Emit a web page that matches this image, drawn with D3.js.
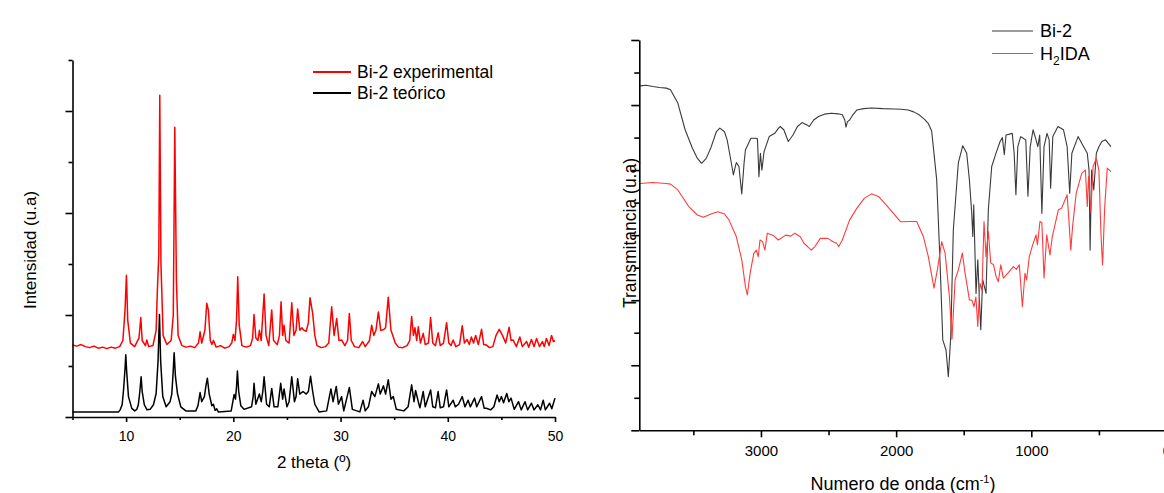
<!DOCTYPE html>
<meta charset="utf-8">
<style>
body { margin: 0; background: #fff; overflow: hidden; }
svg { display: block; background: #fff; }
text { font-family: "Liberation Sans", Arial, sans-serif; fill: #000; }
.axis path, .axis line { stroke: #000; stroke-width: 1.6px; }
.axis text { font-family: "Liberation Sans", Arial, sans-serif; fill: #000; }
.minor path { display: none; }
.xrd { fill: none; stroke-width: 1.5px; stroke-linejoin: round; }
.ir { fill: none; stroke-width: 1.1px; stroke-linejoin: round; }
</style>
<body>
<div id="chart"></div>
<script src="https://d3js.org/d3.v7.min.js"></script>
<script>

// ---- XRD panel (left) : [2 theta, intensity] ----
var xrdExperimental = [
  [5,1.41],[5.4,1.39],[5.8,1.42],[6.2,1.38],[6.6,1.36],[7.0,1.39],[7.4,1.35],[7.8,1.37],[8.2,1.34],[8.6,1.37],
  [9.0,1.35],[9.4,1.38],[9.7,1.5],[9.9,2.1],[10.03,2.78],[10.15,1.9],[10.4,1.45],[10.8,1.38],[11.2,1.55],[11.37,1.95],
  [11.5,1.5],[11.8,1.4],[11.93,1.51],[12.1,1.38],[12.5,1.4],[12.8,1.7],[12.92,2.5],[13.05,3.2],[13.14,6.31],[13.25,3.0],
  [13.33,2.46],[13.45,1.6],[13.8,1.42],[14.2,1.5],[14.4,2.0],[14.54,5.68],[14.69,2.69],[14.85,1.6],[15.2,1.4],[15.6,1.37],
  [16.0,1.39],[16.4,1.36],[16.75,1.45],[16.9,1.67],[17.05,1.45],[17.35,1.7],[17.52,2.23],[17.67,2.1],[17.85,1.5],[18.0,1.42],
  [18.14,1.5],[18.4,1.37],[18.8,1.4],[19.2,1.35],[19.6,1.38],[19.85,1.45],[20.0,1.62],[20.15,1.5],[20.3,1.9],[20.41,2.75],
  [20.55,1.8],[20.8,1.4],[21.2,1.37],[21.6,1.4],[21.8,1.55],[21.93,2.01],[22.1,1.55],[22.3,1.5],[22.43,1.7],[22.6,1.5],
  [22.87,2.41],[23.05,1.6],[23.3,1.4],[23.58,2.1],[23.75,1.5],[24.1,1.42],[24.3,1.6],[24.45,2.26],[24.6,1.6],[24.73,1.8],
  [24.9,1.5],[25.2,1.45],[25.45,2.24],[25.65,1.6],[25.85,1.7],[26.0,2.12],[26.2,1.7],[26.4,1.75],[26.53,1.71],[26.8,1.68],
  [27.0,1.85],[27.15,2.34],[27.4,2.03],[27.6,1.6],[27.8,1.4],[28.2,1.36],[28.6,1.38],[28.9,1.45],[29.17,2.16],[29.4,1.6],
  [29.64,1.93],[29.85,1.5],[30.1,1.51],[30.4,1.4],[30.65,1.5],[30.82,2.03],[31.0,1.5],[31.3,1.38],[31.7,1.36],[32.06,1.48],
  [32.3,1.38],[32.7,1.5],[32.9,1.8],[33.1,1.6],[33.3,1.7],[33.53,2.06],[33.75,1.7],[34.0,1.71],[34.2,1.75],[34.45,2.35],
  [34.7,1.7],[34.92,1.57],[35.1,1.45],[35.4,1.37],[35.8,1.36],[36.2,1.4],[36.45,1.5],[36.63,1.97],[36.8,1.6],[36.94,1.75],
  [37.1,1.5],[37.25,1.77],[37.45,1.45],[37.71,1.64],[37.9,1.42],[38.2,1.45],[38.4,1.95],[38.6,1.45],[38.85,1.4],[39.1,1.65],
  [39.3,1.4],[39.6,1.45],[39.89,1.85],[40.1,1.45],[40.3,1.4],[40.5,1.51],[40.75,1.38],[41.1,1.42],[41.35,1.79],[41.55,1.45],
  [41.8,1.52],[42.0,1.42],[42.2,1.57],[42.4,1.45],[42.6,1.6],[42.85,1.42],[43.15,1.72],[43.35,1.42],[43.6,1.41],[43.9,1.36],
  [44.2,1.38],[44.5,1.6],[44.8,1.72],[45.1,1.6],[45.4,1.45],[45.72,1.76],[45.9,1.5],[46.1,1.51],[46.4,1.38],[46.72,1.57],
  [46.95,1.38],[47.35,1.48],[47.55,1.37],[47.8,1.52],[48.05,1.38],[48.28,1.54],[48.55,1.38],[48.83,1.48],[49.0,1.38],[49.2,1.54],
  [49.45,1.4],[49.68,1.6],[49.85,1.48],[50,1.5]
];

var xrdTheoretical = [
  [5,0.1],[9.3,0.1],[9.44,0.14],[9.63,0.24],[9.76,0.53],[9.9,0.95],[9.97,1.22],[10.05,0.9],[10.22,0.4],[10.53,0.17],
  [10.8,0.12],[11.0,0.15],[11.14,0.24],[11.28,0.5],[11.4,0.79],[11.5,0.5],[11.7,0.24],[11.95,0.14],[12.24,0.15],[12.55,0.24],
  [12.8,0.46],[12.98,1.1],[13.11,2.01],[13.22,1.1],[13.42,0.4],[13.73,0.2],[14.1,0.3],[14.26,0.45],[14.38,0.85],[14.48,1.26],
  [14.6,0.8],[14.79,0.46],[15.1,0.2],[15.57,0.12],[16.5,0.12],[16.7,0.22],[16.9,0.48],[17.05,0.3],[17.3,0.4],[17.45,0.62],
  [17.58,0.76],[17.75,0.45],[18.0,0.22],[18.14,0.25],[18.3,0.13],[18.45,0.16],[18.6,0.1],[19.8,0.12],[20.07,0.44],[20.2,0.35],
  [20.3,0.6],[20.38,0.9],[20.5,0.5],[20.7,0.22],[21.0,0.15],[21.7,0.2],[21.85,0.4],[21.93,0.66],[22.1,0.25],[22.43,0.45],
  [22.6,0.3],[22.75,0.5],[22.87,0.79],[23.1,0.25],[23.35,0.2],[23.58,0.56],[23.8,0.2],[24.15,0.2],[24.42,0.66],[24.6,0.35],
  [24.73,0.55],[25.0,0.2],[25.2,0.3],[25.45,0.79],[25.7,0.3],[25.85,0.4],[26.0,0.75],[26.2,0.45],[26.5,0.5],[26.8,0.45],
  [27.0,0.5],[27.2,0.8],[27.4,0.5],[27.6,0.25],[28.0,0.1],[28.7,0.12],[29.1,0.55],[29.3,0.3],[29.6,0.6],[29.8,0.25],
  [30.1,0.4],[30.3,0.12],[30.82,0.58],[31.1,0.15],[31.8,0.1],[32.1,0.33],[32.3,0.12],[32.6,0.2],[32.9,0.5],[33.2,0.4],
  [33.53,0.65],[33.7,0.45],[34.0,0.61],[34.2,0.45],[34.45,0.73],[34.7,0.35],[34.92,0.4],[35.2,0.15],[35.9,0.12],[36.3,0.2],
  [36.63,0.63],[36.85,0.3],[37.0,0.52],[37.25,0.3],[37.4,0.18],[37.71,0.5],[37.9,0.2],[38.4,0.53],[38.6,0.2],[38.85,0.18],
  [39.1,0.5],[39.3,0.18],[39.6,0.2],[39.89,0.53],[40.1,0.2],[40.5,0.33],[40.7,0.2],[41.0,0.25],[41.35,0.4],[41.6,0.2],
  [41.9,0.33],[42.1,0.2],[42.5,0.37],[42.7,0.2],[43.15,0.4],[43.4,0.17],[43.6,0.17],[44.0,0.14],[44.3,0.2],[44.6,0.43],
  [44.8,0.3],[45.0,0.4],[45.2,0.28],[45.5,0.46],[45.7,0.3],[45.9,0.37],[46.2,0.15],[46.6,0.3],[46.85,0.14],[47.2,0.3],
  [47.45,0.14],[47.8,0.27],[48.05,0.14],[48.4,0.24],[48.65,0.14],[48.9,0.33],[49.1,0.14],[49.5,0.27],[49.7,0.16],[50,0.37]
];

var xrdTicks = [10, 20, 30, 40, 50];
var xrdMinorTicks = [5, 15, 25, 35, 45];
var xrdNames = ["Bi-2 experimental", "Bi-2 teórico"];
var xrdColors = ["#ff0000", "#000000"];

// ---- IR panel (right) : [wavenumber, transmittance] ----
var irBi2 = [
  [3894,10.59],[3850,10.61],[3800,10.57],[3750,10.54],[3700,10.52],[3669,10.47],[3615,10.06],[3561,9.24],[3507,8.67],[3470,8.36],
  [3439,8.21],[3405,8.36],[3372,8.67],[3330,9.18],[3304,9.29],[3270,9.18],[3250,8.93],[3223,8.31],[3204,7.85],[3190,8.11],
  [3182,8.23],[3163,8.11],[3142,7.27],[3125,8.21],[3115,8.62],[3074,8.98],[3040,8.98],[3026,8.96],[3015,7.8],[3004,8.52],
  [2993,8.0],[2977,8.57],[2939,9.03],[2898,9.13],[2870,9.29],[2858,9.34],[2831,9.24],[2798,8.88],[2763,9.08],[2730,9.34],
  [2696,9.46],[2660,9.39],[2642,9.34],[2610,9.54],[2574,9.65],[2530,9.72],[2479,9.75],[2430,9.73],[2398,9.7],[2380,9.54],
  [2371,9.32],[2360,9.49],[2344,9.54],[2320,9.7],[2290,9.85],[2240,9.89],[2182,9.91],[2100,9.89],[2020,9.88],[1960,9.87],
  [1911,9.85],[1870,9.79],[1830,9.7],[1790,9.56],[1763,9.44],[1737,9.2],[1700,7.7],[1675,5.14],[1655,2.78],[1631,2.47],
  [1614,1.65],[1596,2.88],[1577,6.16],[1540,8.22],[1507,8.75],[1478,8.52],[1458,7.7],[1441,6.68],[1433,5.96],[1426,6.93],
  [1409,4.21],[1396,5.24],[1387,4.32],[1374,3.09],[1360,4.63],[1335,4.21],[1318,6.78],[1293,8.11],[1261,8.52],[1231,8.88],
  [1214,9.0],[1200,8.47],[1187,9.08],[1141,9.13],[1127,8.52],[1114,7.24],[1100,8.72],[1079,9.03],[1060,8.98],[1041,8.93],
  [1025,7.2],[1008,8.72],[987,9.24],[965,8.93],[952,8.72],[938,9.08],[922,6.67],[906,8.72],[884,9.13],[868,8.93],
  [857,7.44],[841,9.03],[803,9.34],[762,9.24],[735,8.72],[716,7.29],[700,8.52],[654,9.03],[613,8.72],[586,8.52],
  [573,8.0],[565,5.54],[554,8.0],[538,7.39],[519,8.52],[500,8.72],[478,8.88],[451,8.93],[411,8.72]
];

var irH2IDA = [
  [3894,7.59],[3800,7.62],[3700,7.59],[3669,7.57],[3615,7.39],[3534,6.88],[3470,6.62],[3426,6.55],[3370,6.65],[3318,6.72],
  [3270,6.65],[3237,6.47],[3182,5.95],[3142,5.24],[3115,4.42],[3101,4.16],[3080,4.83],[3053,5.44],[3034,5.54],[3020,5.34],
  [3007,5.85],[2988,5.8],[2971,5.54],[2953,6.06],[2912,6.0],[2871,5.85],[2817,6.0],[2780,5.97],[2750,6.06],[2709,5.95],
  [2682,5.75],[2655,5.65],[2628,5.54],[2601,5.65],[2561,5.9],[2506,5.9],[2466,5.8],[2440,5.75],[2425,5.65],[2398,5.85],
  [2344,6.47],[2290,6.83],[2236,7.13],[2182,7.27],[2128,7.18],[2074,6.93],[2020,6.67],[1966,6.41],[1897,6.42],[1848,6.42],
  [1799,5.96],[1762,5.34],[1720,4.37],[1695,4.93],[1663,5.8],[1638,5.45],[1606,4.11],[1587,2.8],[1564,4.62],[1540,4.93],
  [1510,5.45],[1490,4.83],[1458,4.01],[1440,4.0],[1424,3.8],[1410,4.1],[1396,3.19],[1380,4.52],[1365,4.3],[1350,6.42],
  [1335,5.34],[1318,6.11],[1300,5.14],[1280,5.1],[1261,4.73],[1244,4.57],[1226,5.09],[1207,4.68],[1170,4.85],[1133,5.03],
  [1110,4.95],[1089,5.09],[1066,3.8],[1047,4.83],[1035,4.62],[1015,5.34],[990,5.7],[965,6.01],[955,5.7],[936,6.42],
  [922,6.38],[906,4.68],[886,6.01],[862,5.39],[845,5.95],[800,6.78],[776,6.83],[735,7.24],[722,6.47],[708,5.54],
  [695,6.26],[668,7.29],[627,7.9],[600,8.0],[586,6.88],[576,7.8],[560,6.72],[543,8.11],[519,8.36],[500,8.0],
  [484,5.95],[473,5.08],[457,6.88],[438,8.06],[411,7.95]
];

var irTicks = [3000, 2000, 1000, 0];
var irMinorTicks = [3500, 2500, 1500, 500];
var irColors = ["#3a3a3a", "#ff3b3b"];

var W = 1164, H = 493;

var svg = d3.select("#chart").append("svg")
    .attr("width", W)
    .attr("height", H);

// ================= left panel =================
var xL = d3.scaleLinear().domain([5, 50]).range([72.5, 555]);
var yL = d3.scaleLinear().domain([0, 7]).range([417, 60]);

var left = svg.append("g");

var lineL = d3.line()
    .x(d => xL(d[0]))
    .y(d => yL(d[1]));

left.append("path")
    .datum(xrdTheoretical)
    .attr("class", "xrd")
    .attr("stroke", xrdColors[1])
    .attr("d", lineL);

left.append("path")
    .datum(xrdExperimental)
    .attr("class", "xrd")
    .attr("stroke", xrdColors[0])
    .attr("d", lineL);

// x axis
left.append("g")
    .attr("class", "axis")
    .attr("transform", "translate(0,417)")
    .call(d3.axisBottom(xL).tickValues(xrdTicks).tickSize(5).tickSizeOuter(0).tickPadding(9))
    .selectAll("text").style("font-size", "14px");

left.append("g")
    .attr("class", "axis minor")
    .attr("transform", "translate(0,417)")
    .call(d3.axisBottom(xL).tickValues(xrdMinorTicks).tickSize(3).tickFormat(""));

// y axis (no labels)
left.append("g")
    .attr("class", "axis")
    .attr("transform", "translate(72.5,0)")
    .call(d3.axisLeft(yL).tickValues([0, 2, 4, 6]).tickSize(7).tickSizeOuter(0).tickFormat(""));

left.append("g")
    .attr("class", "axis minor")
    .attr("transform", "translate(72.5,0)")
    .call(d3.axisLeft(yL).tickValues([1, 3, 5, 7]).tickSize(4).tickFormat(""));

left.append("text")
    .attr("x", 314)
    .attr("y", 468)
    .attr("text-anchor", "middle")
    .style("font-size", "17px")
    .text("2 theta (º)");

left.append("text")
    .attr("transform", "translate(36,250) rotate(-90)")
    .attr("text-anchor", "middle")
    .style("font-size", "17px")
    .text("Intensidad (u.a)");

// legend
xrdNames.forEach(function(name, i) {
  var ly = 72 + i * 21;
  left.append("line")
    .attr("x1", 313).attr("x2", 351)
    .attr("y1", ly).attr("y2", ly)
    .attr("stroke", xrdColors[i])
    .attr("stroke-width", 1.8);
  left.append("text")
    .attr("x", 357)
    .attr("y", ly + 6)
    .style("font-size", "17.5px")
    .text(name);
});

// ================= right panel =================
var xR = d3.scaleLinear().domain([3900, 0]).range([639.3, 1166.5]);
var yR = d3.scaleLinear().domain([0, 12]).range([430.3, 40]);

var right = svg.append("g");

var lineR = d3.line()
    .x(d => xR(d[0]))
    .y(d => yR(d[1]));

right.append("path")
    .datum(irBi2)
    .attr("class", "ir")
    .attr("stroke", irColors[0])
    .attr("d", lineR);

right.append("path")
    .datum(irH2IDA)
    .attr("class", "ir")
    .attr("stroke", irColors[1])
    .attr("d", lineR);

right.append("g")
    .attr("class", "axis")
    .attr("transform", "translate(0,430.3)")
    .call(d3.axisBottom(xR).tickValues(irTicks).tickSize(7).tickSizeOuter(0).tickPadding(8).tickFormat(d3.format("d")))
    .selectAll("text").style("font-size", "15px");

right.append("g")
    .attr("class", "axis minor")
    .attr("transform", "translate(0,430.3)")
    .call(d3.axisBottom(xR).tickValues(irMinorTicks).tickSize(5).tickFormat(""));

right.append("g")
    .attr("class", "axis")
    .attr("transform", "translate(639.3,0)")
    .call(d3.axisLeft(yR).tickValues([0, 2, 4, 6, 8, 10, 12]).tickSize(8).tickSizeOuter(0).tickFormat(""));

right.append("g")
    .attr("class", "axis minor")
    .attr("transform", "translate(639.3,0)")
    .call(d3.axisLeft(yR).tickValues([1, 3, 5, 7, 9, 11]).tickSize(5).tickFormat(""));

var xt = right.append("text")
    .attr("x", 903)
    .attr("y", 490)
    .attr("text-anchor", "middle")
    .style("font-size", "18px");
xt.append("tspan").text("Numero de onda (cm");
xt.append("tspan").attr("dy", -7).style("font-size", "11px").text("-1");
xt.append("tspan").attr("dy", 7).text(")");

right.append("text")
    .attr("transform", "translate(636,233) rotate(-90)")
    .attr("text-anchor", "middle")
    .style("font-size", "17.5px")
    .text("Transmitancia (u.a)");

// legend
[0, 1].forEach(function(i) {
  var ly = 31 + i * 22.5;
  right.append("line")
    .attr("x1", 992).attr("x2", 1033)
    .attr("y1", ly).attr("y2", ly)
    .attr("stroke", irColors[i])
    .attr("stroke-width", 1.1);
  var t = right.append("text")
    .attr("x", 1040)
    .attr("y", ly + 6)
    .style("font-size", "18px");
  if (i === 0) {
    t.text("Bi-2");
  } else {
    t.append("tspan").text("H");
    t.append("tspan").attr("dy", 5).style("font-size", "12px").text("2");
    t.append("tspan").attr("dy", -5).text("IDA");
  }
});

</script>
</body>
